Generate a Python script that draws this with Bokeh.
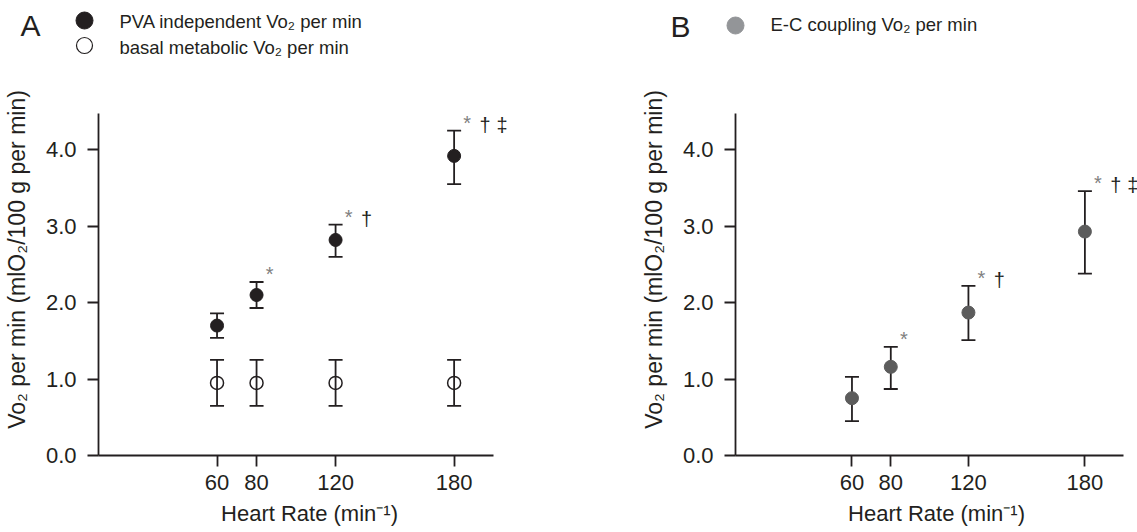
from bokeh.plotting import figure
from bokeh.layouts import column, row
from bokeh.models import Range1d, Whisker, ColumnDataSource, FixedTicker, TeeHead, PrintfTickFormatter
from bokeh.core.properties import value
from bokeh.embed import file_html
from bokeh.resources import INLINE

# ---------------- data ----------------
heart_rate = [60, 80, 120, 180]

pva_mean = [1.70, 2.10, 2.82, 3.92]
pva_lower = [1.54, 1.93, 2.60, 3.55]
pva_upper = [1.86, 2.27, 3.02, 4.25]

basal_mean = [0.95, 0.95, 0.95, 0.95]
basal_lower = [0.65, 0.65, 0.65, 0.65]
basal_upper = [1.25, 1.25, 1.25, 1.25]

ec_mean = [0.75, 1.16, 1.87, 2.93]
ec_lower = [0.45, 0.87, 1.51, 2.38]
ec_upper = [1.03, 1.42, 2.22, 3.46]

pva_sig = ["", "*", "*†", "*†‡"]
ec_sig = ["", "*", "*†", "*†‡"]

x_ticks = [60, 80, 120, 180]
y_ticks = [0, 1, 2, 3, 4]

x_label = "Heart Rate (min⁻¹)"
y_label = "Vo₂ per min (mlO₂/100 g per min)"
legend_a = ["PVA independent Vo₂ per min", "basal metabolic Vo₂ per min"]
legend_b = ["E-C coupling Vo₂ per min"]

# ---------------- style ----------------
FONT = "Liberation Sans"
INK = "#231f20"
GRAY_PT = "#5c5c5c"
GRAY_LEG = "#939598"
STAR = "#808080"
SIG_DX = [13, 31, 48]
SIG_DY = [-8, -6, -6]


def style_axes(p):
    xa, ya = p.xaxis[0], p.yaxis[0]
    for ax in (xa, ya):
        ax.axis_line_color = INK
        ax.axis_line_width = 1.8
        ax.major_tick_line_color = INK
        ax.major_tick_line_width = 1.8
        ax.major_tick_out = 11
        ax.major_tick_in = 0
        ax.minor_tick_line_color = None
        ax.major_label_text_font = FONT
        ax.major_label_text_font_size = "22px"
        ax.major_label_text_color = INK
        ax.axis_label_text_font = FONT
        ax.axis_label_text_font_size = "22px"
        ax.axis_label_text_font_style = "normal"
        ax.axis_label_text_color = INK
    ya.axis_label_text_font_size = "23px"
    xa.bounds = (0, 200)
    ya.bounds = (0, 4.47)
    xa.ticker = FixedTicker(ticks=x_ticks)
    ya.ticker = FixedTicker(ticks=y_ticks)
    ya.formatter = PrintfTickFormatter(format="%.1f")
    xa.axis_label = x_label
    ya.axis_label = y_label
    xa.major_label_standoff = 8
    ya.major_label_standoff = 11
    xa.axis_label_standoff = 8
    ya.axis_label_standoff = 13


def panel(width, border_left, border_right, x_end):
    p = figure(width=width, height=472, x_range=Range1d(0, x_end), y_range=Range1d(0, 5.129),
               output_backend="svg", toolbar_location=None,
               min_border_left=border_left, min_border_right=border_right,
               min_border_top=3, min_border_bottom=77)
    p.outline_line_color = None
    p.grid.visible = False
    style_axes(p)
    return p


def add_series(p, mean, lo, hi, **marker):
    src = ColumnDataSource(dict(x=heart_rate, y=mean, lo=lo, hi=hi))
    w = Whisker(base="x", lower="lo", upper="hi", source=src,
                line_color=INK, line_width=1.8,
                upper_head=TeeHead(size=14, line_color=INK, line_width=1.8),
                lower_head=TeeHead(size=14, line_color=INK, line_width=1.8))
    p.add_layout(w)
    p.scatter("x", "y", source=src, size=13, **marker)


def add_sig(p, sig, hi):
    xs, ys, ts, dx, dy, cs = [], [], [], [], [], []
    for xv, yv, s in zip(heart_rate, hi, sig):
        for k, ch in enumerate(s):
            xs.append(xv); ys.append(yv); ts.append(ch)
            dx.append(SIG_DX[k]); dy.append(SIG_DY[k])
            cs.append(STAR if ch == "*" else INK)
    src = ColumnDataSource(dict(x=xs, y=ys, t=ts, dx=dx, dy=dy, c=cs))
    p.text(x="x", y="y", text="t", x_offset="dx", y_offset="dy", text_color="c", source=src,
           text_font=value(FONT), text_font_size="20px",
           text_align="center", text_baseline="alphabetic")


def legend_fig(width):
    f = figure(width=width, height=60, x_range=Range1d(0, width), y_range=Range1d(60, 0),
               output_backend="svg", toolbar_location=None, min_border=0,
               x_axis_type=None, y_axis_type=None)
    f.outline_line_color = None
    f.grid.visible = False
    return f


# ---------------- panel A ----------------
pA = panel(637, 97, 117, 213.6)
add_series(pA, basal_mean, basal_lower, basal_upper,
           fill_alpha=0, line_color=INK, line_width=1.5)
add_series(pA, pva_mean, pva_lower, pva_upper, fill_color=INK, line_color=INK)
add_sig(pA, pva_sig, pva_upper)

# ---------------- panel B ----------------
pB = panel(500, 90, 0, 207.1)
add_series(pB, ec_mean, ec_lower, ec_upper, fill_color=GRAY_PT, line_color=GRAY_PT)
add_sig(pB, ec_sig, ec_upper)

# ---------------- legends ----------------
lA = legend_fig(637)
lA.text(x=[20], y=[25], text=["A"], text_font=value(FONT), text_font_size="30px",
        text_color=INK, text_baseline="alphabetic")
lA.scatter(x=[84], y=[20], size=17, fill_color=INK, line_color=INK)
lA.scatter(x=[84], y=[45], size=16, fill_alpha=0, line_color=INK, line_width=1.2)
lA.text(x=[119, 119], y=[21, 46.5], text=legend_a, text_font=value(FONT),
        text_font_size="18.5px", text_color=INK, text_baseline="alphabetic")

lB = legend_fig(500)
lB.text(x=[33], y=[26], text=["B"], text_font=value(FONT), text_font_size="30px",
        text_color=INK, text_baseline="alphabetic")
lB.scatter(x=[98], y=[25], size=17, fill_color=GRAY_LEG, line_color=GRAY_LEG)
lB.text(x=[133], y=[24], text=legend_b, text_font=value(FONT),
        text_font_size="18.5px", text_color=INK, text_baseline="alphabetic")

layout = column(row(lA, lB), row(pA, pB))
open("out.html", "w").write(file_html(layout, INLINE))
